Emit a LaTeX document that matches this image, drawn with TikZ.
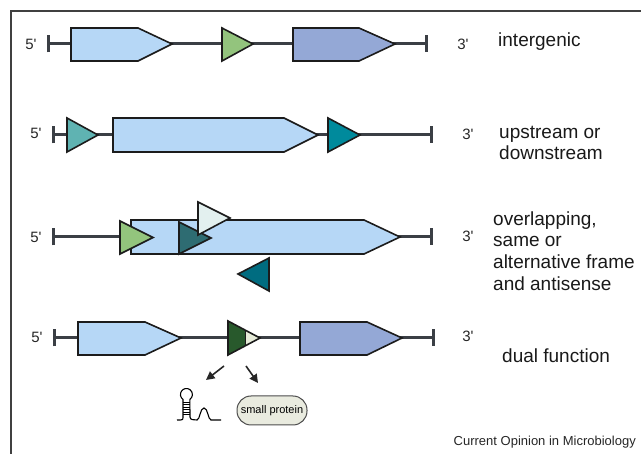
\documentclass[tikz,border=0pt]{standalone}
\usepackage{fontspec}
\setmainfont{Liberation Sans}
\usepackage{xcolor}
\usepackage{tikz}
\usetikzlibrary{arrows.meta,positioning}

\definecolor{backbone}{HTML}{3B3F45}
\definecolor{edge}{HTML}{1C1C1C}
\definecolor{cdsblue}{HTML}{B6D7F6}
\definecolor{cdspurple}{HTML}{94A8D6}
\definecolor{orfgreen}{HTML}{93C47D}
\definecolor{orfteal}{HTML}{5FB3B2}
\definecolor{orfcyan}{HTML}{008A9C}
\definecolor{orfslate}{HTML}{2E6C72}
\definecolor{orfpale}{HTML}{E3F0EF}
\definecolor{orfanti}{HTML}{006C80}
\definecolor{orfdark}{HTML}{28592C}
\definecolor{orflight}{HTML}{E6EBD8}
\definecolor{pill}{HTML}{E9EBDF}

\begin{document}
\begin{tikzpicture}[x=1pt,y=-1pt,
    dna/.style={line width=3pt, draw=backbone, {Bar[width=17pt,length=3pt]}-{Bar[width=17pt,length=3pt]}},
    orf/.style={draw=edge, line width=1.6pt, line join=miter},
    prime/.style={font=\fontsize{15}{18}\selectfont, text=black!85, inner sep=0pt},
    lbl/.style={font=\fontsize{19}{21.7}\selectfont, align=left, inner sep=0pt, text=black!90},
    prod/.style={-{Triangle[length=8.5pt,width=8.5pt]}, line width=1.6pt, draw=black!85}]
\useasboundingbox (0,0) rectangle (641,454);

% frame
\draw [line width=2pt, draw=black!75] (11,454) -- (11,11) -- (641,11);

% intergenic
\draw [dna] (47,44) -- (428,44);
\draw [orf, fill=cdsblue] (71,28) -- (138,28) -- (172,44) -- (138,61) -- (71,61) -- cycle;
\draw [orf, fill=orfgreen] (222,28) -- (253,44) -- (222,61) -- cycle;
\draw [orf, fill=cdspurple] (293,28) -- (359,28) -- (395,44) -- (359,61) -- (293,61) -- cycle;
\node [prime] (five1) at (31,44) {5\textquotesingle};
\node [prime] (three1) at (463,44) {3\textquotesingle};
\node [lbl, anchor=base west] (intergenic) at (498,47) {intergenic};

% upstream / downstream
\draw [dna] (52,135) -- (433,135);
\draw [orf, fill=orfteal] (67,118) -- (98,135) -- (67,152) -- cycle;
\draw [orf, fill=cdsblue] (113,118) -- (284,118) -- (318,135) -- (284,152) -- (113,152) -- cycle;
\draw [orf, fill=orfcyan] (328,118) -- (360,135) -- (328,152) -- cycle;
\node [prime] (five2) at (36,133) {5\textquotesingle};
\node [prime] (three2) at (468,134) {3\textquotesingle};
\node [lbl, anchor=west] (updown) at (499,143) {upstream or\\downstream};

% overlapping
\draw [dna] (52,237) -- (433,237);
\draw [orf, fill=cdsblue] (131,220) -- (364,220) -- (400,237) -- (364,254) -- (131,254) -- cycle;
\draw [orf, fill=orfgreen] (120,221) -- (153,237.5) -- (120,254) -- cycle;
\draw [orf, fill=orfslate] (179,222) -- (211,238) -- (179,254) -- cycle;
\draw [orf, fill=orfpale] (198,202) -- (230,218) -- (198,235) -- cycle;
\draw [orf, fill=orfanti] (269,258) -- (238,274) -- (269,291) -- cycle;
\node [prime] (five3) at (36,237) {5\textquotesingle};
\node [prime] (three3) at (468,236) {3\textquotesingle};
\node [lbl, anchor=west] (overlap) at (493,251) {overlapping,\\same or\\alternative frame\\and antisense};

% dual function
\draw [dna] (53,338) -- (435,338);
\draw [orf, fill=cdsblue] (78,322) -- (145,322) -- (181,338) -- (145,355) -- (78,355) -- cycle;
\fill [orfdark] (228,321) -- (260,338) -- (228,355) -- cycle;
\fill [orflight] (245,330) -- (260,338) -- (245,346) -- cycle;
\draw [orf] (228,321) -- (260,338) -- (228,355) -- cycle;
\draw [edge, line width=1pt] (245,330) -- (245,346);
\draw [orf, fill=cdspurple] (300,322) -- (367,322) -- (402,338) -- (367,355) -- (300,355) -- cycle;
\node [prime] (five4) at (37,337) {5\textquotesingle};
\node [prime] (three4) at (468,336) {3\textquotesingle};
\node [lbl, anchor=base west] (dual) at (502,363) {dual function};

% products
\coordinate (rnaFrom) at (224,366);
\coordinate (rnaTo) at (206,380);
\coordinate (protFrom) at (246,366);
\coordinate (protTo) at (258,383);
\draw [prod] (rnaFrom) -- (rnaTo);
\draw [prod] (protFrom) -- (protTo);

% hairpin
\begin{scope}[line width=1.1pt, draw=black]
\draw (183,417) -- (183,399.4) arc (125:415:6) -- (190,417);
\foreach \y in {402,404.5,407,409.5,412,414.5}
    \draw [line width=0.5pt] (183,\y) -- (190,\y);
\draw (183,417) .. controls (183,420) .. (177,420);
\draw (190,417) .. controls (190,420) and (194,420) .. (197,420)
    .. controls (200,420) and (200,408) .. (204,408)
    .. controls (208,408) and (208,420) .. (211,420) -- (221,420);
\end{scope}

\node [draw=black!70, line width=1pt, fill=pill, rounded corners=14pt,
       minimum width=70pt, minimum height=29pt, inner sep=0pt,
       font=\fontsize{11}{13}\selectfont] (protein) at (272,410.5) {small protein};

\node [anchor=base east, inner sep=0pt, font=\fontsize{13}{15}\selectfont, text=black!85] (credit) at (636,446) {Current Opinion in Microbiology};
\end{tikzpicture}
\end{document}
